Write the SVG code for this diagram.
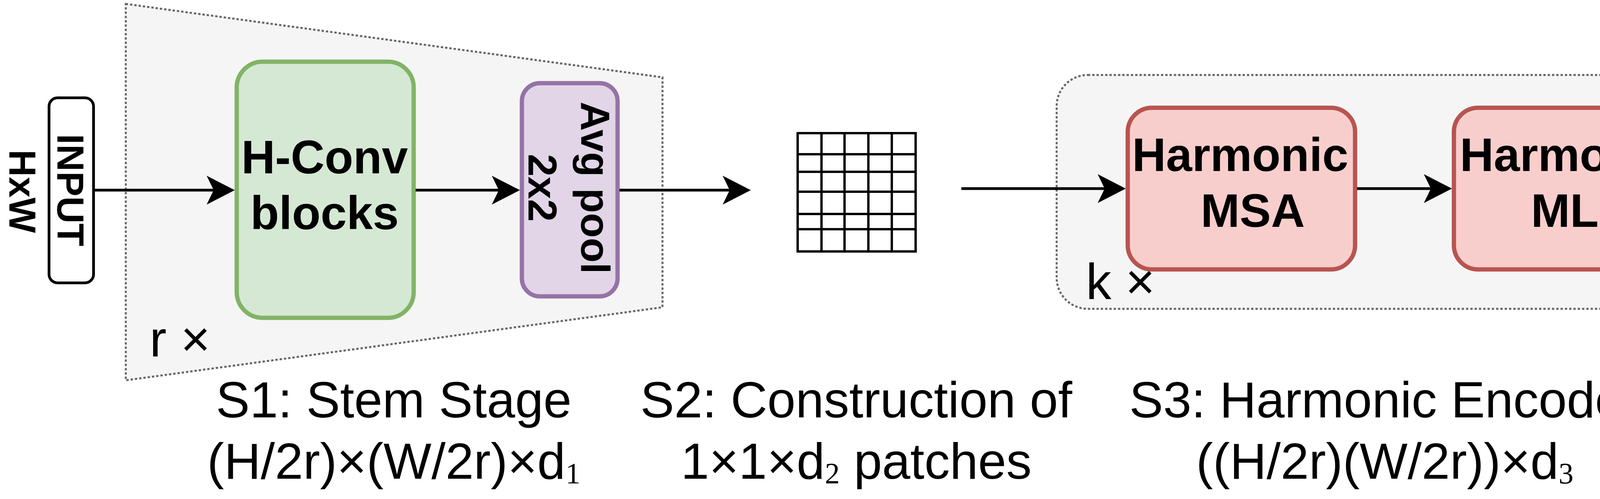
<svg xmlns="http://www.w3.org/2000/svg" width="5646" height="1278" viewBox="0 0 5646 1278">
<defs>
<style>
.cont{fill:#f5f5f5;stroke:#666666;stroke-width:5;stroke-dasharray:6 5;}
.io{fill:#ffffff;stroke:#000000;stroke-width:7;}
.lbl{font-family:"Liberation Sans",Arial,sans-serif;font-weight:bold;font-size:120px;text-anchor:middle;fill:#000000;}
.vlbl{font-family:"Liberation Sans",Arial,sans-serif;font-weight:bold;font-size:96px;text-anchor:middle;fill:#000000;}
.plbl{font-family:"Liberation Sans",Arial,sans-serif;font-weight:bold;font-size:104px;text-anchor:middle;fill:#000000;}
.cap{font-family:"Liberation Sans",Arial,sans-serif;font-size:130px;text-anchor:middle;fill:#000000;}
.rep{font-family:"Liberation Sans",Arial,sans-serif;font-size:130px;fill:#000000;}
.sub{font-family:"Liberation Serif","Times New Roman",serif;font-size:76px;}
.edge{stroke:#000000;stroke-width:7;fill:none;marker-end:url(#arr);}
.grid{stroke:#000000;stroke-width:6;fill:none;}
.green{fill:#d5e8d4;stroke:#82b366;stroke-width:11;}
.purple{fill:#e1d5e7;stroke:#9673a6;stroke-width:11;}
.red{fill:#f8cecc;stroke:#b85450;stroke-width:11;}
.yellow{fill:#ffff88;stroke:#8f8f4f;stroke-width:11;}
</style>
<marker id="arr" markerUnits="userSpaceOnUse" markerWidth="72" markerHeight="74" viewBox="0 0 72 74" refX="18" refY="37" orient="auto">
<path d="M0,0 L72,37 L0,74 L18,37 Z" fill="#000000"/>
</marker>
</defs>

<g id="stem-stage">
<polygon class="cont" points="322,10 1696,198 1696,787 322,974"/>
<text class="rep" x="383" y="913">r ×</text>
</g>

<g id="encoder-stage">
<rect class="cont" x="2705" y="192" width="1677" height="599" rx="80"/>
<text class="rep" x="2780" y="766">k ×</text>
</g>

<g id="classification-stage">
<rect class="cont" x="4524" y="182" width="863" height="602" rx="88"/>
</g>

<g id="input">
<rect class="io" x="125.5" y="250.5" width="114" height="474" rx="22"/>
<text class="vlbl" transform="translate(183,487) rotate(90)" x="0" y="36">INPUT</text>
<text class="vlbl" transform="translate(61,490) rotate(90)" x="0" y="37">HxW</text>
</g>

<g id="hconv">
<rect class="green" x="606" y="158" width="453" height="656" rx="66"/>
<text class="lbl" x="831" y="444">H-Conv</text>
<text class="lbl" x="831" y="587">blocks</text>
</g>

<g id="avgpool">
<rect class="purple" x="1336" y="213" width="245" height="546" rx="46"/>
<text class="plbl" transform="translate(1458,481) rotate(90)" x="0" y="-30">Avg pool</text>
<text class="plbl" transform="translate(1458,481) rotate(90)" x="0" y="105">2x2</text>
</g>

<g id="patches">
<rect class="grid" x="2042" y="341" width="302" height="303"/>
<path class="grid" d="M2103,341 V644 M2162,341 V644 M2223,341 V644 M2283,341 V644 M2042,395 H2344 M2042,440 H2344 M2042,491 H2344 M2042,548 H2344 M2042,587 H2344"/>
</g>

<g id="msa">
<rect class="red" x="2887" y="276" width="582" height="414" rx="62"/>
<text class="lbl" x="3175" y="438">Harmonic</text>
<text class="lbl" x="3207" y="581">MSA</text>
</g>

<g id="mlp">
<rect class="red" x="3722" y="276" width="584" height="414" rx="62"/>
<text class="lbl" x="4014" y="438">Harmonic</text>
<text class="lbl" x="4046" y="581">MLP</text>
</g>

<g id="classifier">
<rect class="yellow" x="4666" y="276" width="580" height="414" rx="62"/>
<text class="lbl" x="4956" y="438">Harmonic</text>
<text class="lbl" x="4956" y="581">Classifier</text>
</g>

<g id="output">
<rect class="io" x="5524.5" y="245.5" width="113" height="474" rx="22"/>
<text class="vlbl" transform="translate(5585,481) rotate(90)" x="0" y="35">OUTPUT</text>
</g>

<g id="connectors">
<path class="edge" d="M243,487 H547"/>
<path class="edge" d="M1064,487 H1277"/>
<path class="edge" d="M1586,487 H1868"/>
<path class="edge" d="M2461,483 H2828"/>
<path class="edge" d="M3474,483 H3663"/>
<path class="edge" d="M4311,483 H4607"/>
<path class="edge" d="M5251,483 H5467"/>
</g>

<g id="captions">
<text class="cap" x="1008" y="1069">S1: Stem Stage</text>
<text class="cap" x="1008" y="1226">(H/2r)×(W/2r)×d<tspan class="sub" dy="12">1</tspan></text>
<text class="cap" x="2192" y="1069">S2: Construction of</text>
<text class="cap" x="2192" y="1226">1×1×d<tspan class="sub" dy="12">2</tspan><tspan dy="-12"> patches</tspan></text>
<text class="cap" x="3545" y="1069">S3: Harmonic Encoder</text>
<text class="cap" x="3545" y="1226">((H/2r)(W/2r))×d<tspan class="sub" dy="12">3</tspan></text>
<text class="cap" x="4954" y="1069">S4: Classification</text>
<text class="cap" x="4954" y="1226">1×1×d<tspan class="sub" dy="12">4</tspan></text>
</g>
</svg>
